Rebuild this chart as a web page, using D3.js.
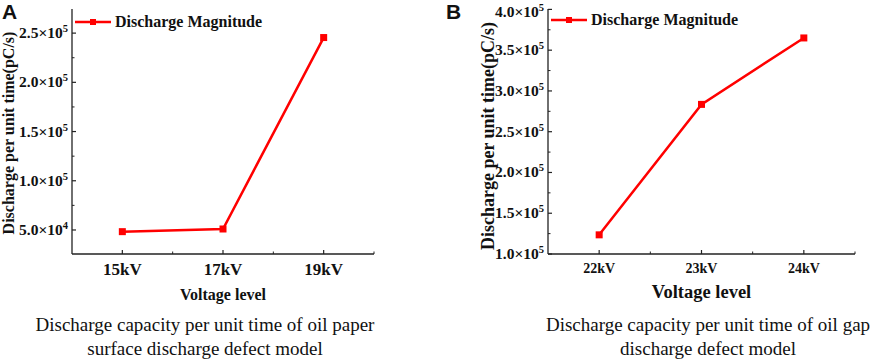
<!DOCTYPE html>
<html>
<head>
<meta charset="utf-8">
<script src="https://cdn.jsdelivr.net/npm/d3@7"></script>
<style>
  body { margin: 0; background: #fff; }
  svg { display: block; }
</style>
</head>
<body>
<div id="chart"></div>
<script>
// data
const categoriesA = ["15kV", "17kV", "19kV"];
const valuesA = [48300, 51000, 245500];
const yTicksA = [50000, 100000, 150000, 200000, 250000];

const categoriesB = ["22kV", "23kV", "24kV"];
const valuesB = [123500, 283500, 365000];
const yTicksB = [100000, 150000, 200000, 250000, 300000, 350000, 400000];

const seriesName = "Discharge Magnitude";
const yTitle = "Discharge per unit time(pC/s)";
const xTitle = "Voltage level";
const captionA = ["Discharge capacity per unit time of oil paper", "surface discharge defect model"];
const captionB = ["Discharge capacity per unit time of oil gap", "discharge defect model"];

const SERIF = "'Liberation Serif', 'Times New Roman', serif";
const SANS = "'Liberation Sans', Arial, sans-serif";

const W = 886, H = 362;
const svg = d3.select("#chart").append("svg")
    .attr("width", W)
    .attr("height", H)
    .style("font-family", SERIF);

function drawPanel(cfg) {
    const g = svg.append("g");

    const x = d3.scaleLinear()
        .domain([0.5, cfg.cats.length + 0.5])
        .range([cfg.left, cfg.right]);
    const y = d3.scaleLinear()
        .domain(cfg.yDomain)
        .range([cfg.bottom, cfg.top]);

    // axes lines
    g.append("line")
        .attr("x1", cfg.left).attr("x2", cfg.left)
        .attr("y1", cfg.top).attr("y2", cfg.bottom)
        .attr("stroke", "#222").attr("stroke-width", 1.3);
    g.append("line")
        .attr("x1", cfg.left).attr("x2", cfg.right)
        .attr("y1", cfg.bottom).attr("y2", cfg.bottom)
        .attr("stroke", "#222").attr("stroke-width", 1.3);

    // y major ticks (inward) + labels
    g.selectAll(".ymaj").data(cfg.yTicks).enter().append("line")
        .attr("x1", cfg.left).attr("x2", cfg.left + 4)
        .attr("y1", d => y(d)).attr("y2", d => y(d))
        .attr("stroke", "#222").attr("stroke-width", 1.2);

    // y minor ticks
    const minorY = d3.range(cfg.yTicks[0] - 25000, cfg.yDomain[1], 25000)
        .filter(v => v > cfg.yDomain[0] && !cfg.yTicks.includes(v));
    g.selectAll(".ymin").data(minorY).enter().append("line")
        .attr("x1", cfg.left).attr("x2", cfg.left + 2.5)
        .attr("y1", d => y(d)).attr("y2", d => y(d))
        .attr("stroke", "#222").attr("stroke-width", 1);

    const yl = g.selectAll(".ylab").data(cfg.yTicks).enter().append("text")
        .attr("x", cfg.left - 4)
        .attr("y", d => Math.max(y(d), 12) + 5)
        .attr("text-anchor", "end")
        .attr("font-weight", "bold")
        .attr("font-size", 15.5)
        .attr("fill", "#111");
    yl.append("tspan").text(d => {
        const e = Math.floor(Math.log10(d));
        return (d / Math.pow(10, e)).toFixed(1) + "\u00d710";
    });
    yl.append("tspan")
        .attr("dy", -6)
        .attr("font-size", 10.5)
        .text(d => Math.floor(Math.log10(d)));

    // x ticks (inward)
    const idx = d3.range(1, cfg.cats.length + 1);
    g.selectAll(".xmaj").data(idx).enter().append("line")
        .attr("x1", d => x(d)).attr("x2", d => x(d))
        .attr("y1", cfg.bottom).attr("y2", cfg.bottom - 4)
        .attr("stroke", "#222").attr("stroke-width", 1.2);
    g.selectAll(".xmin").data(idx.map(d => d + 0.5)).enter().append("line")
        .attr("x1", d => x(d)).attr("x2", d => x(d))
        .attr("y1", cfg.bottom).attr("y2", cfg.bottom - 2.5)
        .attr("stroke", "#222").attr("stroke-width", 1);
    g.selectAll(".xlab").data(cfg.cats).enter().append("text")
        .attr("x", (d, i) => x(i + 1))
        .attr("y", cfg.xTickY)
        .attr("text-anchor", "middle")
        .attr("font-weight", "bold")
        .attr("font-size", cfg.xTickSize)
        .attr("fill", "#111")
        .text(d => d);

    // series line + square markers
    const line = d3.line()
        .x((d, i) => x(i + 1))
        .y(d => y(d));
    g.append("path")
        .datum(cfg.values)
        .attr("d", line)
        .attr("fill", "none")
        .attr("stroke", "#ff0000")
        .attr("stroke-width", 2.5);
    g.selectAll(".mk").data(cfg.values).enter().append("rect")
        .attr("x", (d, i) => x(i + 1) - 3.5)
        .attr("y", d => y(d) - 3.5)
        .attr("width", 7).attr("height", 7)
        .attr("fill", "#ff0000");

    // legend
    g.append("line")
        .attr("x1", cfg.left + 3).attr("x2", cfg.left + 39)
        .attr("y1", cfg.legY).attr("y2", cfg.legY)
        .attr("stroke", "#ff0000").attr("stroke-width", 2.5);
    g.append("rect")
        .attr("x", cfg.left + 21 - 3).attr("y", cfg.legY - 3)
        .attr("width", 6).attr("height", 6)
        .attr("fill", "#ff0000");
    g.append("text")
        .attr("x", cfg.left + 43)
        .attr("y", cfg.legY + 5)
        .attr("font-weight", "bold")
        .attr("font-size", 16)
        .attr("fill", "#111")
        .text(seriesName);

    // axis titles
    g.append("text")
        .attr("transform", `translate(${cfg.yTitleX},${cfg.yTitleY}) rotate(-90)`)
        .attr("text-anchor", "middle")
        .attr("font-weight", "bold")
        .attr("font-size", cfg.yTitleSize)
        .attr("fill", "#111")
        .text(yTitle);
    g.append("text")
        .attr("x", (cfg.left + cfg.right) / 2)
        .attr("y", cfg.xTitleY)
        .attr("text-anchor", "middle")
        .attr("font-weight", "bold")
        .attr("font-size", cfg.xTitleSize)
        .attr("fill", "#111")
        .text(xTitle);

    // panel letter
    g.append("text")
        .attr("x", cfg.letterX)
        .attr("y", 19)
        .style("font-family", SANS)
        .attr("font-weight", "bold")
        .attr("font-size", 21)
        .attr("fill", "#111")
        .text(cfg.letter);

    // caption
    g.selectAll(".cap").data(cfg.caption).enter().append("text")
        .attr("x", cfg.capX)
        .attr("y", (d, i) => 331 + i * 24)
        .attr("text-anchor", "middle")
        .attr("font-size", 19)
        .attr("fill", "#111")
        .text(d => d);
}

drawPanel({
    letter: "A", letterX: 2,
    cats: categoriesA, values: valuesA, yTicks: yTicksA,
    left: 72, right: 374, top: 9, bottom: 254,
    yDomain: [25600, 274500],
    xTickY: 275, xTickSize: 17,
    legY: 22,
    yTitleX: 14, yTitleY: 133, yTitleSize: 16,
    xTitleY: 300, xTitleSize: 16,
    capX: 205, caption: captionA
});

drawPanel({
    letter: "B", letterX: 446,
    cats: categoriesB, values: valuesB, yTicks: yTicksB,
    left: 548, right: 855, top: 9, bottom: 254,
    yDomain: [100000, 400500],
    xTickY: 273, xTickSize: 14,
    legY: 20,
    yTitleX: 494, yTitleY: 136, yTitleSize: 18,
    xTitleY: 298, xTitleSize: 18.5,
    capX: 708, caption: captionB
});
</script>
</body>
</html>
